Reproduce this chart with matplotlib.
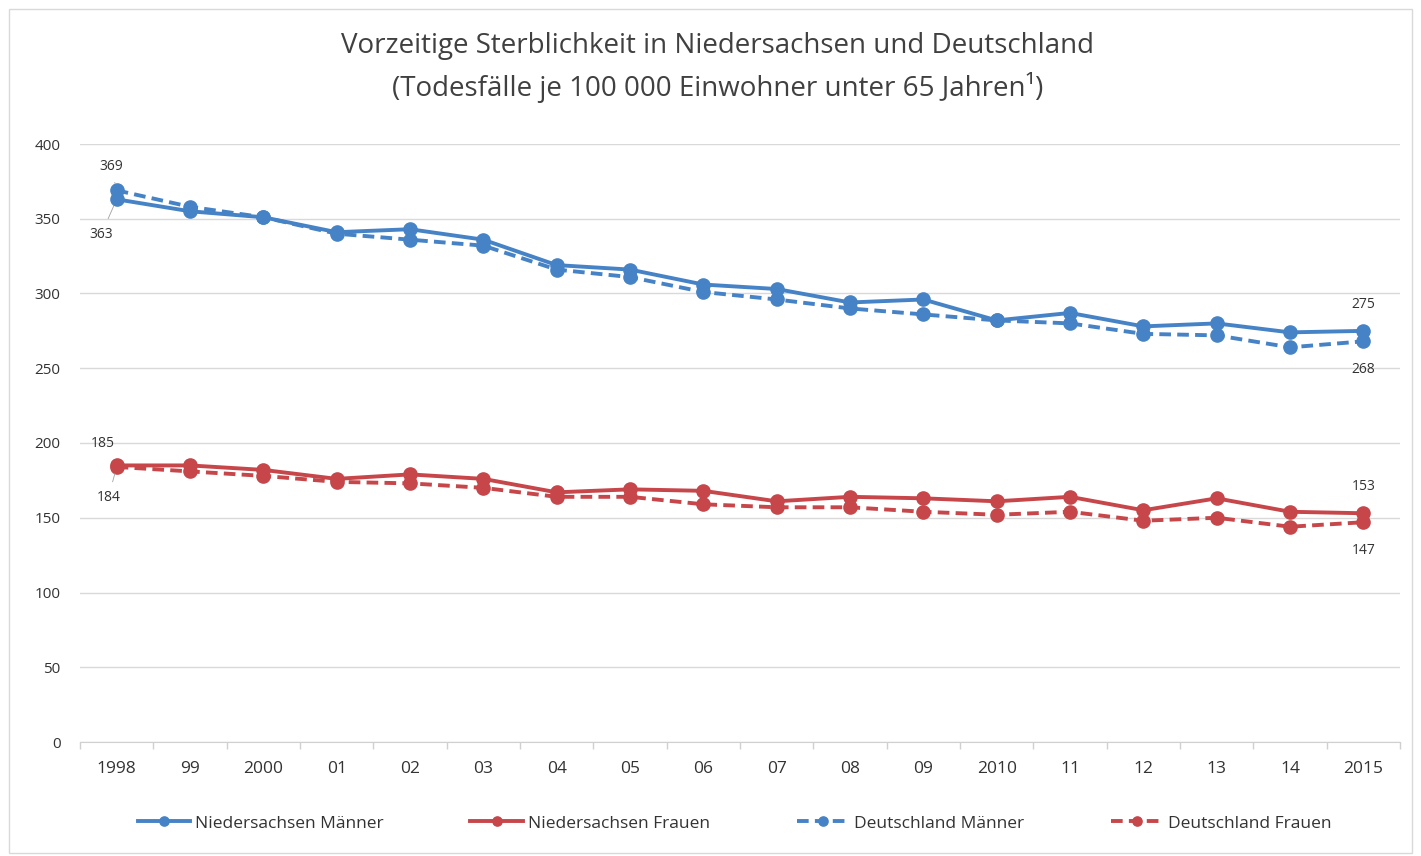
import matplotlib
matplotlib.use("Agg")
import matplotlib.pyplot as plt
from matplotlib.patches import Rectangle

plt.rcParams['font.family'] = ['Open Sans', 'DejaVu Sans']

years = ["1998", "99", "2000", "01", "02", "03", "04", "05", "06", "07", "08",
         "09", "2010", "11", "12", "13", "14", "2015"]
nds_m = [363, 355, 351, 341, 343, 336, 319, 316, 306, 303, 294, 296, 282, 287, 278, 280, 274, 275]
de_m = [369, 358, 351, 340, 336, 332, 316, 311, 301, 296, 290, 286, 282, 280, 273, 272, 264, 268]
nds_f = [185, 185, 182, 176, 179, 176, 167, 169, 168, 161, 164, 163, 161, 164, 155, 163, 154, 153]
de_f = [184, 181, 178, 174, 173, 170, 164, 164, 159, 157, 157, 154, 152, 154, 148, 150, 144, 147]
yticks = [0, 50, 100, 150, 200, 250, 300, 350, 400]

blue = "#4683c6"
red = "#c6464a"
txt = "#333333"

fig = plt.figure(figsize=(14.21, 8.56), dpi=100)
fig.patches.append(Rectangle((0.006, 0.004), 0.988, 0.985, transform=fig.transFigure,
                             fill=False, edgecolor="#d9d9d9", linewidth=1))
ax = fig.add_axes([80/1421, 114/856, 1320/1421, 598/856])
x = list(range(len(years)))

lw = 2.8
ms = 9.5
ax.plot(x, nds_m, color=blue, lw=lw, marker="o", ms=ms, label="Niedersachsen Männer", clip_on=False, zorder=4)
ax.plot(x, nds_f, color=red, lw=lw, marker="o", ms=ms, label="Niedersachsen Frauen", clip_on=False, zorder=4)
ax.plot(x, de_m, color=blue, lw=lw, ls=(0, (3, 1.6)), marker="o", ms=ms, label="Deutschland Männer", clip_on=False, zorder=3)
ax.plot(x, de_f, color=red, lw=lw, ls=(0, (3, 1.6)), marker="o", ms=ms, label="Deutschland Frauen", clip_on=False, zorder=3)

ax.set_xlim(-0.5, len(years) - 0.5)
ax.set_ylim(0, 400)
ax.set_yticks(yticks)
ax.set_yticklabels([str(v) for v in yticks], fontsize=11, color=txt)
ax.set_xticks(x)
ax.set_xticklabels(years, fontsize=12.5, color=txt)
ax.tick_params(axis="x", length=0, pad=14)
ax.tick_params(axis="y", length=0, pad=14)
ax.set_xticks([i - 0.5 for i in range(len(years) + 1)], minor=True)
ax.tick_params(axis="x", which="minor", length=5, color="#d0d0d0", width=1)
ax.grid(axis="y", color="#d9d9d9", lw=1)
ax.set_axisbelow(True)
for s in ["top", "right", "left"]:
    ax.spines[s].set_visible(False)
ax.spines["bottom"].set_color("#d0d0d0")

lab_kw = dict(fontsize=10, color=txt, ha="center", va="center")
lead = dict(arrowstyle="-", color="#a0a0a0", lw=0.6, shrinkA=4, shrinkB=5)

ax.annotate(str(de_m[0]), xy=(0, de_m[0]), xytext=(-4, 17), textcoords="offset points", arrowprops=lead, **lab_kw)
ax.annotate(str(nds_m[0]), xy=(0, nds_m[0]), xytext=(-11, -25), textcoords="offset points", arrowprops=lead, **lab_kw)
ax.annotate(str(nds_f[0]), xy=(0, nds_f[0]), xytext=(-10, 16), textcoords="offset points", **lab_kw)
ax.annotate(str(de_f[0]), xy=(0, de_f[0]), xytext=(-6, -22), textcoords="offset points", arrowprops=lead, **lab_kw)
n = len(years) - 1
ax.annotate(str(nds_m[n]), xy=(n, nds_m[n]), xytext=(0, 19), textcoords="offset points", **lab_kw)
ax.annotate(str(de_m[n]), xy=(n, de_m[n]), xytext=(0, -20), textcoords="offset points", **lab_kw)
ax.annotate(str(nds_f[n]), xy=(n, nds_f[n]), xytext=(0, 19), textcoords="offset points", **lab_kw)
ax.annotate(str(de_f[n]), xy=(n, de_f[n]), xytext=(0, -20), textcoords="offset points", **lab_kw)

fig.text(0.505, 0.946, "Vorzeitige Sterblichkeit in Niedersachsen und Deutschland",
         ha="center", va="center", fontsize=20, color="#404040")
fig.text(0.505, 0.898, "(Todesfälle je 100 000 Einwohner unter 65 Jahren¹)",
         ha="center", va="center", fontsize=20, color="#404040")

fig.legend(loc="center", bbox_to_anchor=(0.517, 0.038), ncol=4, frameon=False,
           fontsize=12.5, labelcolor=txt, columnspacing=5.0, handlelength=3.0,
           handletextpad=0.3, markerscale=0.7)

fig.savefig("out.png", dpi=100)
